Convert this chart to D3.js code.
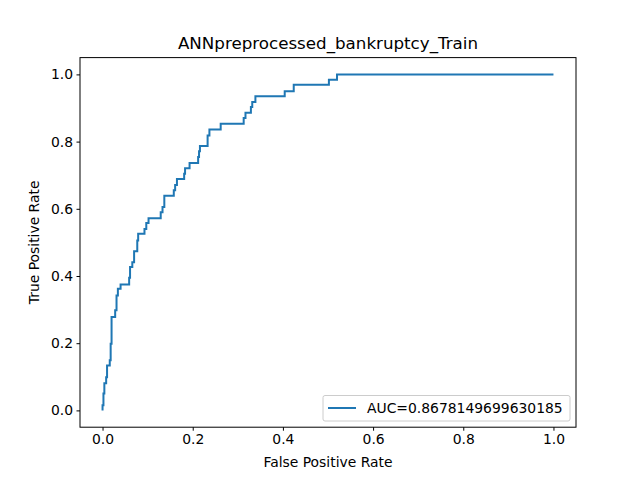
<!DOCTYPE html>
<html><head><meta charset="utf-8">
<script src="https://cdn.jsdelivr.net/npm/d3@7"></script>
<style>body{margin:0;background:#fff}text{font-family:"DejaVu Sans",sans-serif}</style>
</head><body><div id="chart"></div>
<script>
const fpr = [0,0.002,0.004,0.008,0.010,0.016,0.018,0.020,0.028,0.031,0.034,0.040,0.059,0.061,0.066,0.070,0.077,0.079,0.093,0.097,0.102,0.129,0.133,0.137,0.158,0.161,0.165,0.181,0.183,0.193,0.212,0.214,0.216,0.233,0.237,0.262,0.313,0.317,0.329,0.332,0.339,0.404,0.424,0.502,0.520,1.0];
const tpr = [0,0.015,0.050,0.081,0.099,0.134,0.149,0.198,0.278,0.298,0.342,0.362,0.375,0.395,0.427,0.441,0.474,0.506,0.526,0.540,0.558,0.572,0.590,0.605,0.639,0.655,0.671,0.689,0.704,0.721,0.736,0.754,0.771,0.787,0.818,0.836,0.853,0.870,0.886,0.903,0.918,0.935,0.950,0.969,0.984,1.0];
const ticks = [0, 0.2, 0.4, 0.6, 0.8, 1.0];
const title = 'ANNpreprocessed_bankruptcy_Train';
const legendLabel = 'AUC=0.8678149699630185';

const width = 640, height = 480;
const m = {left: 80, right: 576, top: 57.6, bottom: 427.2};
const svg = d3.select('#chart').append('svg').attr('width', width).attr('height', height);

const x = d3.scaleLinear().domain([-0.05, 1.05]).range([m.left, m.right]);
const y = d3.scaleLinear().domain([-0.05, 1.05]).range([m.bottom, m.top]);

const fmt = d => d.toFixed(1);
svg.append('g').attr('transform', `translate(0,${m.bottom})`)
  .call(d3.axisBottom(x).tickValues(ticks).tickFormat(fmt).tickSize(3.5).tickPadding(3.5))
  .call(g => g.select('.domain').remove())
  .selectAll('text').attr('font-size', 13.9).attr('fill', '#000');
svg.append('g').attr('transform', `translate(${m.left},0)`)
  .call(d3.axisLeft(y).tickValues(ticks).tickFormat(fmt).tickSize(3.5).tickPadding(3.5))
  .call(g => g.select('.domain').remove())
  .selectAll('text').attr('font-size', 13.9).attr('fill', '#000');

const pts = fpr.map((f, i) => [f, tpr[i]]);
svg.append('path').datum(pts)
  .attr('d', d3.line().x(d => x(d[0])).y(d => y(d[1])).curve(d3.curveStepBefore))
  .attr('fill', 'none').attr('stroke', '#1f77b4').attr('stroke-width', 2);

svg.append('rect').attr('x', m.left).attr('y', m.top)
  .attr('width', m.right - m.left).attr('height', m.bottom - m.top)
  .attr('fill', 'none').attr('stroke', '#000').attr('stroke-width', 1);

svg.append('text').attr('x', (m.left + m.right) / 2).attr('y', 49)
  .attr('text-anchor', 'middle').attr('font-size', 16.7).text(title);
svg.append('text').attr('x', (m.left + m.right) / 2).attr('y', 467)
  .attr('text-anchor', 'middle').attr('font-size', 13.9).text('False Positive Rate');
svg.append('text').attr('transform', `translate(39,${(m.top + m.bottom) / 2}) rotate(-90)`)
  .attr('text-anchor', 'middle').attr('font-size', 13.9).text('True Positive Rate');

const lg = svg.append('g');
lg.append('rect').attr('x', 323).attr('y', 395.5).attr('width', 247).attr('height', 25.5).attr('rx', 2)
  .attr('fill', '#fff').attr('fill-opacity', 0.8).attr('stroke', '#ccc');
lg.append('line').attr('x1', 328).attr('x2', 356).attr('y1', 408).attr('y2', 408)
  .attr('stroke', '#1f77b4').attr('stroke-width', 2);
lg.append('text').attr('x', 367).attr('y', 413).attr('font-size', 13.9).text(legendLabel);
</script></body></html>
